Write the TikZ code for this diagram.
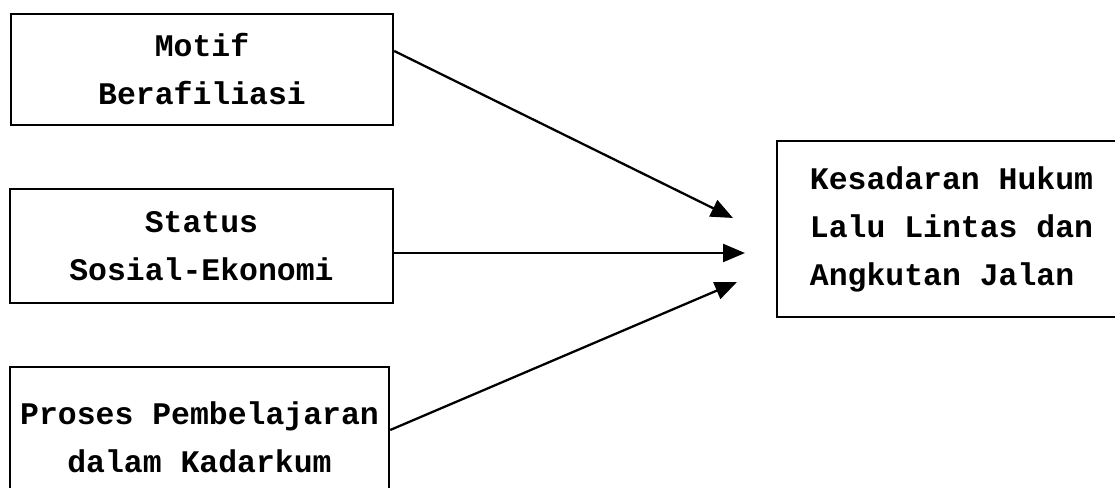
\documentclass[tikz,border=0pt]{standalone}
\usepackage{fontspec}
\setmonofont{Liberation Mono}
\usepackage{tikz}
\usetikzlibrary{arrows.meta}

\tikzset{
    varbox/.style={draw, line width=1.4pt, align=center, inner sep=0pt,
        font=\ttfamily\bfseries\fontsize{17.9}{27.3}\selectfont},
    link/.style={-{Triangle[length=0.44cm,width=0.36cm]}, line width=1.3pt}
}

\begin{document}
\begin{tikzpicture}
    \useasboundingbox (0,0) rectangle (22.3,9.76);
    \clip (0,0) rectangle (22.3,9.76);

    % independent variables
    \node[varbox, minimum width=7.64cm, minimum height=2.22cm]
        (motif) at (4.04,8.37) {Motif\\Berafiliasi};
    \node[varbox, minimum width=7.66cm, minimum height=2.28cm]
        (status) at (4.03,4.84) {Status\\Sosial-Ekonomi};
    \node[varbox, minimum width=7.58cm, minimum height=2.8cm]
        (proses) at (3.99,1.02) {Proses Pembelajaran\\dalam Kadarkum};

    % dependent variable
    \node[varbox, align=left, minimum width=6.98cm, minimum height=3.52cm]
        (kesadaran) at (19.03,5.18) {Kesadaran Hukum\\Lalu Lintas dan\\Angkutan Jalan};

    % arrow tips stop short of the box
    \coordinate (tip1) at (14.66,5.40);
    \coordinate (tip2) at (14.90,4.70);
    \coordinate (tip3) at (14.74,4.12);

    \draw[link] ([yshift=0.37cm]motif.east) -- (tip1);
    \draw[link] ([yshift=-0.14cm]status.east) -- (tip2);
    \draw[link] ([yshift=0.14cm]proses.east) -- (tip3);
\end{tikzpicture}
\end{document}
